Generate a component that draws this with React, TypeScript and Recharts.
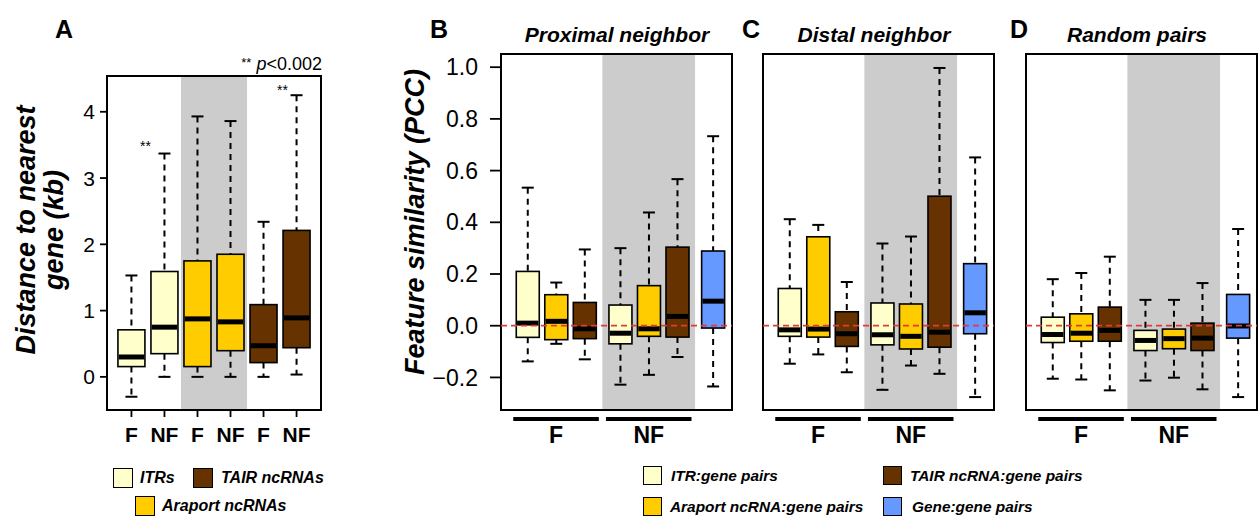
import React from 'react';
import { ComposedChart, Bar, XAxis, YAxis, ReferenceArea, ReferenceLine } from 'recharts';

const FONT = '"Liberation Sans", Arial, Helvetica, sans-serif';

// ---------- colours ----------
const ITR_COLOR = '#FFFFCC';
const ARAPORT_COLOR = '#FFCC00';
const TAIR_COLOR = '#663300';
const GENE_COLOR = '#6699FF';
const SHADE = '#CCCCCC';
const ZERO_RED = '#E03A3A';

// ---------- panel A data: distance to nearest gene (kb) ----------
const distanceCategories = ['F', 'NF', 'F', 'NF', 'F', 'NF'];
const distanceSeries = ['ITRs', 'ITRs', 'Araport ncRNAs', 'Araport ncRNAs', 'TAIR ncRNAs', 'TAIR ncRNAs'];
// [lower whisker, Q1, median, Q3, upper whisker]
const distanceBoxes = [
  [-0.3, 0.155, 0.3, 0.71, 1.53],
  [0, 0.35, 0.75, 1.59, 3.37],
  [0, 0.155, 0.875, 1.75, 3.93],
  [0, 0.395, 0.83, 1.85, 3.86],
  [0, 0.215, 0.47, 1.09, 2.34],
  [0.035, 0.44, 0.89, 2.21, 4.25],
];
const distanceTicks = [0, 1, 2, 3, 4];

// ---------- panels B-D data: feature similarity (PCC) ----------
const pairSeries = ['ITR', 'Araport', 'TAIR', 'ITR', 'Araport', 'TAIR', 'Gene'];
const pairGroups = ['F', 'F', 'F', 'NF', 'NF', 'NF', 'Gene'];
const pccTicks = [-0.2, 0, 0.2, 0.4, 0.6, 0.8, 1.0];
const proximalBoxes = [
  [-0.138, -0.045, 0.01, 0.21, 0.534],
  [-0.07, -0.054, 0.017, 0.12, 0.167],
  [-0.13, -0.05, -0.012, 0.09, 0.295],
  [-0.228, -0.07, -0.029, 0.08, 0.3],
  [-0.19, -0.041, -0.012, 0.155, 0.438],
  [-0.121, -0.044, 0.036, 0.304, 0.567],
  [-0.235, -0.009, 0.095, 0.289, 0.733],
];
const distalBoxes = [
  [-0.147, -0.041, -0.016, 0.144, 0.412],
  [-0.111, -0.044, -0.013, 0.344, 0.39],
  [-0.18, -0.08, -0.031, 0.054, 0.169],
  [-0.248, -0.074, -0.035, 0.088, 0.318],
  [-0.154, -0.09, -0.041, 0.084, 0.345],
  [-0.186, -0.083, -0.025, 0.501, 0.997],
  [-0.276, -0.031, 0.05, 0.24, 0.651],
];
const randomBoxes = [
  [-0.205, -0.065, -0.034, 0.033, 0.18],
  [-0.208, -0.06, -0.029, 0.046, 0.204],
  [-0.25, -0.06, -0.018, 0.072, 0.267],
  [-0.212, -0.096, -0.057, -0.018, 0.1],
  [-0.201, -0.089, -0.05, -0.013, 0.1],
  [-0.246, -0.096, -0.048, 0.01, 0.165],
  [-0.276, -0.048, -0.001, 0.121, 0.374],
];

// ---------- layout constants (slot positions on the numeric x scale) ----------
const distanceSlots = [1, 2, 3, 4, 5, 6];
const pairSlots = [1, 2, 3, 4.25, 5.25, 6.25, 7.5];
const seriesColor: Record<string, string> = {
  ITR: ITR_COLOR, ITRs: ITR_COLOR,
  Araport: ARAPORT_COLOR, 'Araport ncRNAs': ARAPORT_COLOR,
  TAIR: TAIR_COLOR, 'TAIR ncRNAs': TAIR_COLOR,
  Gene: GENE_COLOR,
};

const toRows = (boxes: number[][], slots: number[], series: string[]) =>
  boxes.map((s, i) => ({ pos: slots[i], range: [s[0], s[4]], stats: s, color: seriesColor[series[i]] }));

const distanceRows = toRows(distanceBoxes, distanceSlots, distanceSeries);

const mean = (a: number[]) => a.reduce((p, c) => p + c, 0) / a.length;
const slotsOf = (g: string) => pairSlots.filter((_, i) => pairGroups[i] === g);
const groupLabels = ['F', 'NF'];
const groupCenters = groupLabels.map((g) => mean(slotsOf(g)));
const groupSpans = groupLabels.map((g) => [Math.min(...slotsOf(g)) - 0.5, Math.max(...slotsOf(g)) + 0.5]);

const makeBoxShape = (capHalf: number) => (props: any) => {
  const { x, y, width, height, payload } = props;
  if (x == null || y == null || !payload) return null;
  const [lo, q1, med, q3, hi] = payload.stats as number[];
  const top = Math.min(y, y + height);
  const bot = Math.max(y, y + height);
  const span = hi - lo || 1;
  const py = (v: number) => top + ((hi - v) / span) * (bot - top);
  const cx = x + width / 2;
  return (
    <g>
      <line x1={cx} x2={cx} y1={py(hi)} y2={py(q3)} stroke="#000" strokeWidth={2} strokeDasharray="6 5" />
      <line x1={cx} x2={cx} y1={py(q1)} y2={py(lo)} stroke="#000" strokeWidth={2} strokeDasharray="6 5" />
      <line x1={cx - capHalf} x2={cx + capHalf} y1={py(hi)} y2={py(hi)} stroke="#000" strokeWidth={2} />
      <line x1={cx - capHalf} x2={cx + capHalf} y1={py(lo)} y2={py(lo)} stroke="#000" strokeWidth={2} />
      <rect x={x} y={py(q3)} width={width} height={py(q1) - py(q3)} fill={payload.color} stroke="#000" strokeWidth={1.6} />
      <line x1={x + 0.8} x2={x + width - 0.8} y1={py(med)} y2={py(med)} stroke="#000" strokeWidth={5} />
    </g>
  );
};

const DIST_X: [number, number] = [0.26, 6.74];
const DIST_Y: [number, number] = [-0.5, 4.54];
const PCC_X: [number, number] = [0.07, 8.17];
const PCC_Y: [number, number] = [-0.326, 1.051];

function DistancePanel() {
  return (
    <div style={{ position: 'absolute', left: 0, top: 0 }}>
      <ComposedChart width={330} height={460} data={distanceRows} margin={{ top: 76, right: 9, bottom: 10, left: 47 }}>
        <XAxis
          dataKey="pos" type="number" domain={DIST_X} allowDataOverflow ticks={distanceSlots} interval={0}
          tickFormatter={(_v: any, i: number) => distanceCategories[i]}
          axisLine={false} tickSize={7} tickMargin={10} height={40}
          tickLine={{ stroke: '#000', strokeWidth: 1.8 }}
          tick={{ fontSize: 21, fontWeight: 'bold', fill: '#000', fontFamily: FONT }}
        />
        <YAxis
          type="number" domain={DIST_Y} allowDataOverflow ticks={distanceTicks} interval={0} width={60}
          axisLine={false} tickSize={7} tickMargin={5}
          tickLine={{ stroke: '#000', strokeWidth: 1.8 }}
          tick={{ fontSize: 21, fill: '#000', fontFamily: FONT }}
        />
        <ReferenceArea x1={2.5} x2={4.5} y1={DIST_Y[0]} y2={DIST_Y[1]} fill={SHADE} fillOpacity={1} stroke="none" ifOverflow="visible" />
        <Bar dataKey="range" barSize={27} isAnimationActive={false} shape={makeBoxShape(6)} />
        <ReferenceArea x1={DIST_X[0]} x2={DIST_X[1]} y1={DIST_Y[0]} y2={DIST_Y[1]} fill="none" stroke="#000" strokeWidth={2} ifOverflow="visible" />
      </ComposedChart>
    </div>
  );
}

function PairPanel({ left, width, marginLeft, marginRight, yWidth, boxes, showTickLabels }: any) {
  const rows = toRows(boxes, pairSlots, pairSeries);
  const barY = -0.361;
  return (
    <div style={{ position: 'absolute', left, top: 0 }}>
      <ComposedChart width={width} height={460} data={rows} margin={{ top: 54, right: marginRight, bottom: 20, left: marginLeft }}>
        <XAxis
          dataKey="pos" type="number" domain={PCC_X} allowDataOverflow ticks={groupCenters} interval={0}
          tickFormatter={(_v: any, i: number) => groupLabels[i]}
          axisLine={false} tickLine={false} tickSize={0} tickMargin={17} height={30}
          tick={{ fontSize: 23, fontWeight: 'bold', fill: '#000', fontFamily: FONT }}
        />
        <YAxis
          type="number" domain={PCC_Y} allowDataOverflow ticks={pccTicks} interval={0} width={yWidth}
          axisLine={false} tickSize={11} tickMargin={12}
          tickFormatter={(v: number) => (v < 0 ? '\u2212' + Math.abs(v).toFixed(1) : v.toFixed(1))}
          tickLine={{ stroke: '#000', strokeWidth: 1.8 }}
          tick={showTickLabels ? { fontSize: 23, fill: '#000', fontFamily: FONT } : false}
        />
        <ReferenceArea x1={3.625} x2={6.875} y1={PCC_Y[0]} y2={PCC_Y[1]} fill={SHADE} fillOpacity={1} stroke="none" ifOverflow="visible" />
        <Bar dataKey="range" barSize={23} isAnimationActive={false} shape={makeBoxShape(6)} />
        <ReferenceLine y={0} stroke={ZERO_RED} strokeWidth={1.8} strokeDasharray="6 4" />
        <ReferenceArea x1={PCC_X[0]} x2={PCC_X[1]} y1={PCC_Y[0]} y2={PCC_Y[1]} fill="none" stroke="#000" strokeWidth={2} ifOverflow="visible" />
        {groupSpans.map((s, i) => (
          <ReferenceLine key={i} segment={[{ x: s[0], y: barY }, { x: s[1], y: barY }]} stroke="#000" strokeWidth={4} ifOverflow="visible" />
        ))}
      </ComposedChart>
    </div>
  );
}

const txt = (left: number, baseline: number, fs: number, content: React.ReactNode, extra: React.CSSProperties = {}) => (
  <div style={{ position: 'absolute', left, top: baseline - 0.8465 * fs, fontSize: fs, lineHeight: `${fs}px`, whiteSpace: 'nowrap', fontFamily: FONT, color: '#000', ...extra }}>
    {content}
  </div>
);

const centered = (cx: number, baseline: number, fs: number, content: React.ReactNode, extra: React.CSSProperties = {}) => (
  <div style={{ position: 'absolute', left: cx - 200, width: 400, textAlign: 'center', top: baseline - 0.8465 * fs, fontSize: fs, lineHeight: `${fs}px`, whiteSpace: 'nowrap', fontFamily: FONT, color: '#000', ...extra }}>
    {content}
  </div>
);

const rotated = (cx: number, cy: number, fs: number, content: string) => (
  <div style={{ position: 'absolute', left: cx, top: cy, transform: 'translate(-50%, -50%) rotate(-90deg)', fontSize: fs, lineHeight: `${fs}px`, whiteSpace: 'nowrap', fontFamily: FONT, fontWeight: 'bold', fontStyle: 'italic', color: '#000' }}>
    {content}
  </div>
);

const swatch = (left: number, top: number, size: number, color: string) => (
  <div style={{ position: 'absolute', left, top, width: size, height: size, background: color, border: '1.5px solid #000', boxSizing: 'border-box' }} />
);

const legendA = [
  { label: 'ITRs', color: ITR_COLOR, bx: 113, by: 468, tx: 140 },
  { label: 'TAIR ncRNAs', color: TAIR_COLOR, bx: 193, by: 468, tx: 221 },
  { label: 'Araport ncRNAs', color: ARAPORT_COLOR, bx: 135, by: 496, tx: 162 },
];
const legendPairs = [
  { label: 'ITR:gene pairs', color: ITR_COLOR, bx: 643, by: 466, tx: 671 },
  { label: 'TAIR ncRNA:gene pairs', color: TAIR_COLOR, bx: 883, by: 466, tx: 910 },
  { label: 'Araport ncRNA:gene pairs', color: ARAPORT_COLOR, bx: 643, by: 497, tx: 670 },
  { label: 'Gene:gene pairs', color: GENE_COLOR, bx: 883, by: 497, tx: 912 },
];

export default function App() {
  const bi: React.CSSProperties = { fontWeight: 'bold', fontStyle: 'italic' };
  return (
    <div style={{ position: 'fixed', left: 0, top: 0, width: 1258, height: 520, background: '#fff', overflow: 'hidden', fontFamily: FONT }}>
      <DistancePanel />
      <PairPanel left={400} width={340} marginLeft={31} marginRight={8} yWidth={70} boxes={proximalBoxes} showTickLabels />
      <PairPanel left={740} width={262} marginLeft={3} marginRight={8} yWidth={20} boxes={distalBoxes} showTickLabels={false} />
      <PairPanel left={1000} width={258} marginLeft={6} marginRight={1} yWidth={20} boxes={randomBoxes} showTickLabels={false} />

      {/* panel letters */}
      {txt(55, 38, 25, 'A', { fontWeight: 'bold' })}
      {txt(430, 38, 25, 'B', { fontWeight: 'bold' })}
      {txt(742, 38, 25, 'C', { fontWeight: 'bold' })}
      {txt(1010, 38, 25, 'D', { fontWeight: 'bold' })}

      {/* titles */}
      {centered(617, 41.5, 21, 'Proximal neighbor', bi)}
      {centered(874, 41.5, 21, 'Distal neighbor', bi)}
      {centered(1137, 41.5, 21, 'Random pairs', bi)}

      {/* axis titles */}
      {rotated(25.6, 230, 27, 'Distance to nearest')}
      {rotated(53.6, 230, 27, 'gene (kb)')}
      {rotated(415, 222, 27, 'Feature similarity (PCC)')}

      {/* significance */}
      <div style={{ position: 'absolute', right: 1258 - 322, top: 70 - 0.8465 * 18, fontSize: 18, lineHeight: '18px', whiteSpace: 'nowrap', fontFamily: FONT }}>
        <span style={{ fontSize: 13, position: 'relative', top: -3 }}>**</span> <i>p</i>&lt;0.002
      </div>
      {txt(140, 151, 14, '**')}
      {txt(277, 95, 14, '**')}

      {/* legends */}
      {legendA.map((l) => (
        <React.Fragment key={l.label}>
          {swatch(l.bx, l.by, 20, l.color)}
          {txt(l.tx, l.by + 16, 16, l.label, bi)}
        </React.Fragment>
      ))}
      {legendPairs.map((l) => (
        <React.Fragment key={l.label}>
          {swatch(l.bx, l.by, 19, l.color)}
          {txt(l.tx, l.by + 15.5, 15.4, l.label, bi)}
        </React.Fragment>
      ))}
    </div>
  );
}
